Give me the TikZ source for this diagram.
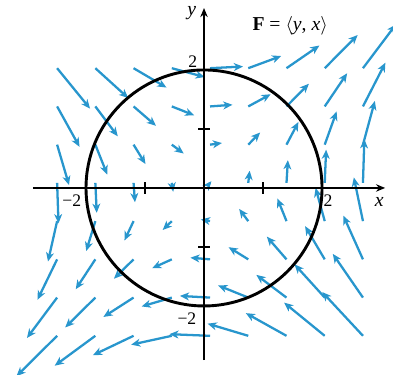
\documentclass[tikz,border=0pt]{standalone}
\usepackage{fontspec}
\setmainfont{Liberation Serif}
\usetikzlibrary{arrows.meta}
\definecolor{fieldblue}{RGB}{40,150,205}
\begin{document}
\begin{tikzpicture}[x=1cm,y=1cm,
  vec/.style={fieldblue, line width=1.1pt, -{Stealth[length=4.4pt,width=3.8pt,inset=1.3pt]}},
  axis/.style={black, line width=0.6pt, -{Stealth[length=4.4pt,width=3.6pt]}},
  tick/.style={black, line width=0.6pt},
  curve/.style={black, line width=1.4pt},
  lbl/.style={font=\fontsize{8.5}{10}\selectfont, inner sep=0pt},
  ttl/.style={font=\fontsize{9.5}{11}\selectfont, inner sep=0pt}]
\useasboundingbox (-3.458,-3.169) rectangle (3.203,3.186);
% vector field F = <y, x>, tails on a grid
\foreach \i in {0,...,8}{
  \foreach \j in {0,...,7}{
    \pgfmathsetmacro{\px}{-2.49+0.648*\i}
    \pgfmathsetmacro{\py}{2.03-0.648*\j}
    \draw[vec] (\px,\py) -- ++({0.275*\py},{0.275*\px});
  }
}
% axes
\coordinate (xl) at (-2.90,0);
\coordinate (xr) at (3.07,0);
\coordinate (yb) at (0,-2.92);
\coordinate (yt) at (0,3.05);
\draw[axis] (xl) -- (xr);
\draw[axis] (yb) -- (yt);
% ticks
\foreach \t in {-1,1}{
  \draw[tick] (\t,-0.1) -- (\t,0.1);
  \draw[tick] (-0.1,\t) -- (0.1,\t);
}
% circle
\draw[curve] (0,0) circle (2);
% labels
\node[lbl, font=\fontsize{9.5}{11}\selectfont\itshape] (ylab) at (-0.21,2.97) {y};
\node[lbl, font=\fontsize{9.5}{11}\selectfont\itshape] (xlab) at (2.97,-0.24) {x};
\node[lbl] (x2) at (2.10,-0.21) {2};
\node[lbl] (xm2) at (-2.24,-0.21) {−2};
\node[lbl] (y2) at (-0.19,2.14) {2};
\node[lbl] (ym2) at (-0.29,-2.22) {−2};
\node[ttl] (title) at (1.46,2.74) {\textbf{F} = $\langle$\textit{y}, \textit{x}$\rangle$};
\end{tikzpicture}
\end{document}
